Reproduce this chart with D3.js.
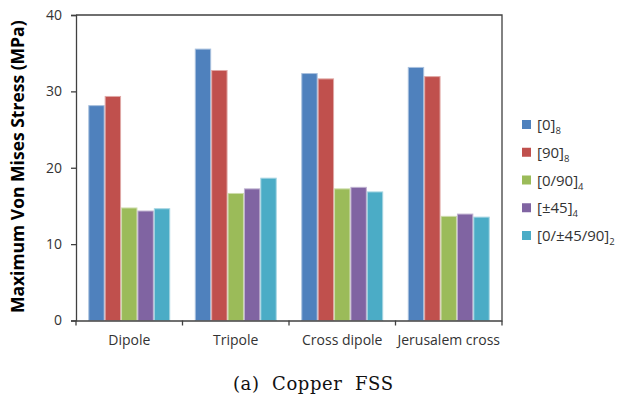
<!DOCTYPE html>
<html>
<head>
<meta charset="utf-8">
<script src="https://cdn.jsdelivr.net/npm/d3@7/dist/d3.min.js"></script>
<style>
  html, body { margin: 0; padding: 0; background: #fff; }
  svg { display: block; }
</style>
</head>
<body>
<script>
// Maximum von Mises stress for each FSS element shape and laminate layup
const categories = ["Dipole", "Tripole", "Cross dipole", "Jerusalem cross"];
const seriesNames = ["[0]", "[90]", "[0/90]", "[\u00b145]", "[0/\u00b145/90]"];
const seriesSubs = ["8", "8", "4", "4", "2"];
const layup0 = [28.2, 35.6, 32.4, 33.2];
const layup90 = [29.4, 32.8, 31.7, 32.0];
const layup0_90 = [14.8, 16.7, 17.3, 13.7];
const layupPm45 = [14.4, 17.3, 17.5, 14.0];
const layupQuasi = [14.7, 18.7, 16.9, 13.6];
const yTicks = [0, 10, 20, 30, 40];
const seriesColors = ["#4f81bd", "#c0504d", "#9bbb59", "#8064a2", "#4bacc6"];
const seriesEdges = ["#a9c0de", "#e0a8a6", "#cddcac", "#bfb1d0", "#a5d5e2"];

const seriesValues = [layup0, layup90, layup0_90, layupPm45, layupQuasi];

const W = 621, H = 403;
const plot = { left: 76, right: 502, top: 15, bottom: 320.5 };
const labelFont = "'Open Sans', sans-serif";

const svg = d3.select("body").append("svg")
  .attr("width", W).attr("height", H);

const x = d3.scaleBand().domain(categories)
  .range([plot.left, plot.right]).paddingInner(0).paddingOuter(0);
const inner = d3.scaleBand().domain(d3.range(seriesNames.length))
  .range([0, x.bandwidth()]).paddingInner(0).paddingOuter(0.75);
const y = d3.scaleLinear().domain([0, 40]).range([plot.bottom, plot.top]);

// bars
const groups = svg.append("g").selectAll("g")
  .data(seriesValues).join("g")
  .attr("fill", (d, i) => seriesColors[i])
  .attr("stroke", (d, i) => seriesEdges[i]);

groups.selectAll("rect")
  .data((vals, si) => vals.map((v, ci) => ({ v, ci, si })))
  .join("rect")
  .attr("x", d => x(categories[d.ci]) + inner(d.si) + 0.5)
  .attr("width", inner.bandwidth() - 1)
  .attr("y", d => y(d.v) + 0.5)
  .attr("height", d => y(0) - y(d.v) - 0.5)
  .attr("stroke-width", 1);

const axisColor = "#404040";

// frame (top and right edges)
svg.append("path")
  .attr("d", `M${plot.left},${plot.top}H${plot.right}V${plot.bottom}`)
  .attr("fill", "none").attr("stroke", axisColor).attr("stroke-width", 1.3);

// y axis
const yAxis = svg.append("g")
  .attr("transform", `translate(${plot.left},0)`)
  .call(d3.axisLeft(y).tickValues(yTicks).tickSize(5).tickPadding(9));
yAxis.select(".domain").attr("stroke", axisColor).attr("stroke-width", 1.3);
yAxis.selectAll(".tick line").attr("stroke", axisColor).attr("stroke-width", 1.3);
yAxis.selectAll("text")
  .attr("font-family", labelFont).attr("font-size", 14)
  .attr("fill", "#333");

// x axis with ticks between categories
const xAxis = svg.append("g")
  .attr("transform", `translate(0,${plot.bottom})`)
  .call(d3.axisBottom(x).tickSize(0).tickPadding(15));
xAxis.select(".domain").attr("stroke", axisColor).attr("stroke-width", 1.3);
xAxis.selectAll("text")
  .attr("font-family", labelFont).attr("font-size", 14)
  .attr("fill", "#333");
const boundaries = categories.map(c => x(c)).concat([x.range()[1]]);
xAxis.selectAll("line.sep").data(boundaries).join("line")
  .attr("class", "sep")
  .attr("x1", d => d).attr("x2", d => d)
  .attr("y1", 0).attr("y2", 5)
  .attr("stroke", axisColor).attr("stroke-width", 1.3);

// y axis title
svg.append("text")
  .attr("transform", `translate(24,${(plot.top + plot.bottom) / 2 - 1}) rotate(-90)`)
  .attr("text-anchor", "middle")
  .attr("font-family", labelFont)
  .attr("font-weight", "bold").attr("font-size", 17.5)
  .attr("fill", "#000")
  .text("Maximum Von Mises Stress (MPa)");

// legend
const legend = svg.append("g").attr("transform", "translate(522,0)");
const rowY = d3.scalePoint().domain(d3.range(seriesNames.length)).range([124.5, 235.5]);
const rows = legend.selectAll("g").data(seriesNames).join("g")
  .attr("transform", (d, i) => `translate(0,${rowY(i)})`);
rows.append("rect")
  .attr("x", 0).attr("y", -4.5).attr("width", 9).attr("height", 9)
  .attr("fill", (d, i) => seriesColors[i]);
const lt = rows.append("text")
  .attr("x", 15).attr("y", 5.5)
  .attr("font-family", labelFont).attr("font-size", 15)
  .attr("fill", "#333");
lt.append("tspan").text(d => d);
lt.append("tspan").attr("dy", 4).attr("font-size", 9.5)
  .text((d, i) => seriesSubs[i]);

// caption
svg.append("text")
  .attr("x", 233).attr("y", 390)
  .attr("font-family", "'DejaVu Serif', serif").attr("font-size", 18)
  .attr("fill", "#111")
  .attr("xml:space", "preserve")
  .attr("textLength", 160).attr("lengthAdjust", "spacing")
  .text("(a)  Copper  FSS");
</script>
</body>
</html>
